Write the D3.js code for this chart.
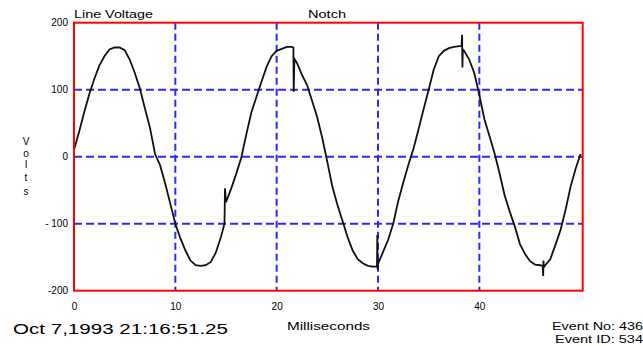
<!DOCTYPE html>
<html><head><meta charset="utf-8">
<script src="https://cdn.jsdelivr.net/npm/d3@7"></script>
<style>body{margin:0;background:#fff}svg{display:block}text{font-family:"Liberation Sans",Arial,sans-serif;fill:#000}</style>
</head><body><svg id="c" width="643" height="346"></svg>
<script>
const timeMs = [0,0.5,1.0,1.5,2.0,2.5,3.0,3.5,4.0,4.5,5.0,5.5,6.0,6.5,7.0,7.5,8.0,
 8.5,9.0,9.5,10.0,10.5,11.0,11.5,12.0,12.5,13.0,13.5,14.0,14.5,14.85,14.9,15.0,15.5,16.0,16.5,
 17.0,17.5,18.0,18.5,19.0,19.5,20.0,20.5,21.0,21.5,21.65,21.68,21.75,22.0,22.5,23.0,23.5,24.0,24.5,
 25.0,25.5,26.0,26.5,27.0,27.5,28.0,28.5,29.0,29.5,29.9,29.93,29.96,30.0,30.5,31.0,31.5,32.0,32.5,33.0,
 33.5,34.0,34.5,35.0,35.5,36.0,36.5,37.0,37.5,38.0,38.25,38.3,38.33,38.37,38.5,39.0,39.5,40.0,40.5,41.0,41.5,
 42.0,42.5,43.0,43.5,44.0,44.5,45.0,45.5,46.0,46.25,46.3,46.33,46.37,46.5,47.0,47.5,48.0,48.5,49.0,49.5,49.9,50.0];
const volts = [10,37,66,93,116,136,150,160,163,163,159,145,125,102,72,43,4,
 -13,-40,-70,-100,-122,-140,-155,-162,-163,-162,-157,-143,-120,-100,-47,-68,-48,-26,-2,
 33,66,89,112,134,150,158,161,164,164,163,97,146,140,122,107,83,59,28,
 -8,-45,-72,-96,-120,-140,-153,-159,-163,-164,-164,-117,-168,-160,-142,-124,-100,-66,-38,-12,
 12,41,71,100,130,150,158,162,164,165,165,182,133,160,158,145,125,92,56,31,5,
 -25,-58,-82,-104,-130,-145,-156,-161,-162,-163,-178,-155,-165,-162,-153,-132,-110,-80,-45,-18,0,4];
const xTicks = [0,10,20,30,40];
const yTicks = [200,100,0,-100,-200];
const yTickLabels = ["200","100","0","- 100","-200"];
const xGrid = [10,20,30,40];
const yGrid = [100,0,-100];

const svg = d3.select("#c");
const L=74,R=582.7,T=22.7,B=290.7;
const x = d3.scaleLinear().domain([0,50.2]).range([L,R]);
const y = d3.scaleLinear().domain([-200,200]).range([B,T]);

svg.selectAll(".gx").data(xGrid).enter().append("line")
  .attr("x1",d=>x(d)).attr("x2",d=>x(d)).attr("y1",T).attr("y2",B)
  .attr("stroke","#2a2aff").attr("stroke-width",2).attr("stroke-dasharray","7,4");
svg.selectAll(".gy").data(yGrid).enter().append("line")
  .attr("x1",L).attr("x2",R).attr("y1",d=>y(d)).attr("y2",d=>y(d))
  .attr("stroke","#2a2aff").attr("stroke-width",2).attr("stroke-dasharray","8,4");

const pts = timeMs.map((t,i)=>[t,volts[i]]);
svg.append("path").datum(pts)
  .attr("d",d3.line().x(d=>x(d[0])).y(d=>y(d[1])))
  .attr("fill","none").attr("stroke","#111").attr("stroke-width",1.8);

svg.append("rect").attr("x",L).attr("y",T).attr("width",R-L).attr("height",B-T)
  .attr("fill","none").attr("stroke","#ff0000").attr("stroke-width",2);

const yAxis = d3.axisLeft(y).tickValues(yTicks).tickSize(0).tickPadding(6)
  .tickFormat((d,i)=>yTickLabels[i]);
const gy = svg.append("g").attr("transform",`translate(${L},0)`).call(yAxis);
gy.select(".domain").remove();
gy.selectAll("text").style("font-size","10px").style("font-family","Liberation Sans, Arial, sans-serif").attr("fill","#000");

const xAxis = d3.axisBottom(x).tickValues(xTicks).tickSize(0).tickPadding(12);
const gx = svg.append("g").attr("transform",`translate(0,${B})`).call(xAxis);
gx.select(".domain").remove();
gx.selectAll("text").style("font-size","10px").style("font-family","Liberation Sans, Arial, sans-serif").attr("fill","#000");

function label(tx,ty,w,size,txt){
  svg.append("text").attr("x",tx).attr("y",ty).attr("font-size",size)
    .attr("textLength",w).attr("lengthAdjust","spacingAndGlyphs").text(txt);
}
label(74,18,79,10,"Line Voltage");
label(308,18,38,10,"Notch");
label(287,330,83,10,"Milliseconds");
label(13,334,215,14,"Oct 7,1993 21:16:51.25");
label(552,330,91,10,"Event No: 436");
label(555,343,88,10,"Event ID: 534");

const letters = ["V","o","l","t","s"];
const ly = [145,157,168,181,195];
svg.selectAll(".vl").data(letters).enter().append("text")
  .attr("x",26).attr("y",(d,i)=>ly[i]).attr("text-anchor","middle")
  .attr("font-size",10).text(d=>d);
</script></body></html>
